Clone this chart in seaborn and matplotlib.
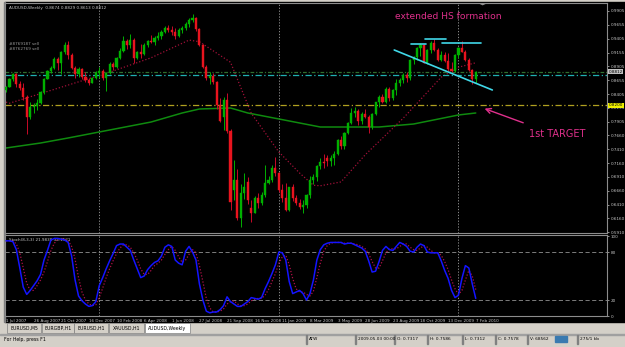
import numpy as np
import pandas as pd
import matplotlib
matplotlib.use("Agg")
import matplotlib.pyplot as plt
from matplotlib.patches import Rectangle, Polygon
import seaborn as sns

# AUDUSD weekly bars, week of 1 Jul 2007 .. week of 7 Feb 2010
opens = [.8480, .8540, .8670, .8760, .8580, .8510, .8360, .7990, .8170, .8190,
         .8240, .8440, .8680, .8820, .8870, .9040, .8960, .9160, .9290, .9110,
         .8880, .8760, .8850, .8720, .8660, .8610, .8700, .8780, .8830, .8700,
         .8780, .8940, .8900, .9050, .9190, .9360, .9290, .9380, .9060, .9160,
         .9130, .9300, .9370, .9350, .9420, .9460, .9530, .9600, .9570, .9520,
         .9450, .9570, .9600, .9670, .9740, .9770, .9580, .9300, .8900, .8700,
         .8740, .8620, .8200, .8000, .8290, .7740, .6670, .6850, .6170, .6620,
         .6820, .6350, .6260, .6530, .6440, .6590, .6800, .6860, .7070, .6980,
         .6670, .6530, .6310, .6720, .6530, .6440, .6370, .6410, .6580, .6860,
         .6910, .7100, .7180, .7250, .7200, .7250, .7317, .7578, .7460, .7700,
         .7890, .8070, .8100, .7920, .8040, .8000, .7810, .8040, .8260, .8360,
         .8260, .8500, .8330, .8480, .8600, .8660, .8750, .8700, .9020, .9070,
         .9240, .9290, .8970, .9200, .9330, .9200, .9020, .9110, .9010, .8850,
         .8820, .9110, .9240, .9170, .9020, .8840, .8674]
highs = [.8560, .8690, .8793, .8790, .8650, .8610, .8380, .8260, .8240, .8310,
         .8460, .8700, .8840, .8920, .9070, .9080, .9190, .9340, .9370, .9150,
         .8920, .8900, .8880, .8810, .8690, .8720, .8830, .8890, .8850, .8800,
         .8980, .8990, .9080, .9230, .9450, .9400, .9496, .9420, .9190, .9310,
         .9330, .9380, .9480, .9460, .9520, .9560, .9640, .9660, .9640, .9590,
         .9600, .9640, .9700, .9770, .9849, .9790, .9600, .9310, .8930, .8810,
         .8790, .8640, .8330, .8350, .8420, .7780, .7210, .7050, .6780, .6980,
         .6900, .6500, .6560, .6620, .6630, .7120, .6920, .7120, .7270, .7000,
         .6780, .6800, .6720, .6780, .6580, .6520, .6490, .6600, .6920, .6960,
         .7130, .7260, .7330, .7310, .7300, .7380, .7586, .7640, .7720, .7910,
         .8160, .8180, .8130, .8080, .8140, .8020, .8060, .8270, .8380, .8400,
         .8530, .8540, .8500, .8680, .8700, .8790, .8800, .9040, .9090, .9250,
         .9330, .9310, .9220, .9360, .9406, .9230, .9180, .9170, .9150, .8990,
         .9130, .9260, .9367, .9200, .9050, .8860, .8829]
lows = [.8450, .8530, .8650, .8540, .8470, .8300, .7677, .7960, .8070, .8110,
        .8220, .8400, .8670, .8780, .8850, .8840, .8770, .9120, .9040, .8850,
        .8690, .8720, .8680, .8630, .8570, .8600, .8680, .8700, .8660, .8460,
        .8760, .8840, .8880, .9030, .9170, .9220, .9240, .8970, .9030, .9050,
        .9110, .9250, .9320, .9300, .9390, .9400, .9500, .9520, .9480, .9400,
        .9440, .9510, .9560, .9620, .9700, .9540, .9270, .8870, .8660, .8580,
        .8580, .8127, .7900, .7760, .7700, .6310, .6490, .6130, .6009, .6520,
        .6420, .6100, .6250, .6350, .6400, .6550, .6780, .6810, .6930, .6640,
        .6460, .6290, .6290, .6470, .6400, .6330, .6250, .6350, .6530, .6780,
        .6830, .7060, .7080, .7100, .7100, .7120, .7312, .7420, .7420, .7680,
        .7860, .7990, .7850, .7870, .7980, .7700, .7780, .8020, .8180, .8240,
        .8250, .8280, .8290, .8390, .8550, .8600, .8620, .8660, .8950, .9020,
        .9100, .8960, .8950, .9150, .9180, .9000, .9000, .8990, .8830, .8800,
        .8800, .9060, .9160, .9000, .8820, .8579, .8613]
closes = [.8540, .8670, .8760, .8580, .8510, .8360, .7990, .8170, .8190, .8240,
          .8440, .8680, .8820, .8870, .9040, .8960, .9160, .9290, .9110, .8880,
          .8760, .8850, .8720, .8660, .8610, .8700, .8780, .8830, .8700, .8780,
          .8940, .8900, .9050, .9190, .9360, .9290, .9380, .9060, .9160, .9130,
          .9300, .9370, .9350, .9420, .9460, .9530, .9600, .9570, .9520, .9450,
          .9570, .9600, .9670, .9740, .9770, .9580, .9300, .8900, .8700, .8740,
          .8620, .8200, .7920, .8290, .7740, .6450, .6850, .6170, .6620, .6730,
          .6490, .6260, .6530, .6440, .6590, .6800, .6860, .7070, .6980, .6670,
          .6530, .6310, .6720, .6530, .6440, .6370, .6410, .6580, .6860, .6910,
          .7100, .7180, .7160, .7200, .7250, .7317, .7578, .7460, .7700, .7890,
          .8070, .8100, .7920, .8040, .8000, .7810, .8040, .8260, .8360, .8260,
          .8500, .8330, .8480, .8600, .8660, .8750, .8700, .9020, .9070, .9240,
          .9290, .8970, .9200, .9330, .9200, .9020, .9110, .9010, .8850, .8820,
          .9110, .9240, .9170, .9020, .8840, .8674, .8812]

# moving averages on the price window (bar index, price)
ma_red_idx = [0, 1, 30, 42, 53, 56, 65, 71, 79, 85, 89, 91, 97, 104, 115, 126, 131, 136]
ma_red_val = [.826, .824, .880, .906, .938, .935, .898, .806, .736, .698, .676, .675,
              .682, .731, .797, .871, .889, .897]
ma_green_idx = [0, 10, 18, 27, 42, 51, 56, 65, 70, 79, 91, 108, 118, 131, 136]
ma_green_val = [.7432, .7522, .7613, .7721, .7901, .8064, .8136, .8154, .8064,
                .7956, .7811, .7811, .7865, .8028, .8064]

# stochastic (8,3,3)
stoch_main = [94, 94, 93, 83, 60, 36, 27, 32, 38, 44, 52, 70, 82, 95, 97, 97, 96, 95, 92, 75,
              45, 25, 19, 15, 12, 13, 18, 38, 48, 59, 69, 78, 88, 90, 90, 86, 82, 70, 59, 48,
              50, 58, 63, 67, 69, 75, 86, 89, 87, 70, 66, 64, 81, 87, 80, 70, 40, 20, 6, 4,
              5, 5, 8, 13, 24, 18, 15, 12, 12, 15, 18, 23, 22, 21, 23, 34, 43, 53, 64, 80,
              79, 70, 43, 28, 30, 32, 28, 20, 28, 45, 70, 83, 89, 91, 92, 92, 92, 92, 90, 91,
              91, 89, 87, 85, 81, 69, 55, 56, 68, 82, 87, 83, 82, 87, 92, 90, 87, 81, 80, 86,
              90, 88, 80, 79, 79, 79, 69, 57, 47, 32, 23, 26, 47, 63, 60, 40, 22]
stoch_signal = [94, 94, 94, 90, 79, 60, 41, 32, 32, 38, 45, 55, 68, 82, 91, 96, 97, 96, 94, 87,
                71, 48, 30, 20, 15, 13, 14, 23, 35, 48, 59, 69, 78, 85, 89, 89, 86, 79, 70, 59,
                52, 52, 57, 63, 66, 70, 77, 83, 87, 82, 74, 67, 70, 77, 83, 79, 63, 43, 22, 10,
                5, 5, 6, 9, 15, 18, 19, 15, 13, 13, 15, 19, 21, 22, 22, 26, 33, 43, 53, 66,
                74, 76, 64, 47, 34, 30, 30, 27, 25, 31, 48, 66, 81, 88, 91, 92, 92, 92, 91, 91,
                91, 90, 89, 87, 84, 78, 68, 60, 60, 69, 79, 84, 84, 84, 87, 90, 90, 86, 83, 82,
                85, 88, 86, 82, 79, 79, 76, 68, 58, 45, 34, 27, 32, 45, 57, 50, 33]

date_labels = ["1 Jul 2007", "26 Aug 2007", "21 Oct 2007", "16 Dec 2007", "10 Feb 2008",
               "6 Apr 2008", "1 Jun 2008", "27 Jul 2008", "21 Sep 2008", "16 Nov 2008",
               "11 Jan 2009", "8 Mar 2009", "3 May 2009", "28 Jun 2009", "23 Aug 2009",
               "18 Oct 2009", "13 Dec 2009", "7 Feb 2010"]
price_ticks = [0.9905, 0.9655, 0.9405, 0.9155, 0.8905, 0.8655, 0.8405, 0.8155, 0.7905,
               0.7660, 0.7410, 0.7160, 0.6910, 0.6660, 0.6410, 0.6160, 0.5910]
year_bars = [27, 79, 131]

bid_price = 0.8812
order_price = 0.8745
target_price = 0.8200
neck_idx = [112.4, 140.8]
neck_val = [0.9201, 0.8479]
shoulder_lines = [(117.3, 121.7, 0.9315), (121.4, 127.5, 0.9405), (126.3, 137.6, 0.9322)]

tabs = ["EURUSD,M5", "EURGBP,H1", "EURUSD,H1", "XAUUSD,H1", "AUDUSD,Weekly"]
status = [("ATW", 309), ("2009.05.03 00:00", 358), ("O: 0.7317", 397), ("H: 0.7586", 430),
          ("L: 0.7312", 465), ("C: 0.7578", 498), ("V: 68562", 530), ("275/1 kb", 580)]

# ---------------------------------------------------------------------------
sns.set_theme(style="dark")
plt.rcParams['font.family'] = ['DejaVu Sans']

W, H = 625, 347
def box(x0, y0, x1, y1):
    return [x0 / W, 1 - y1 / H, (x1 - x0) / W, (y1 - y0) / H]

fig = plt.figure(figsize=(6.25, 3.47), dpi=100)
fig.patch.set_facecolor('#d4d0c8')
fig.add_artist(Rectangle((5 / W, 1 - 322 / H), 620 / W, 320 / H, color='black',
                         transform=fig.transFigure, zorder=0))
fig.add_artist(Rectangle((4 / W, 1 - 322 / H), 1 / W, 320 / H, color='#808080',
                         transform=fig.transFigure, zorder=0))

ax = fig.add_axes(box(5, 3, 607, 233))
ax2 = fig.add_axes(box(5, 235, 607, 316), sharex=ax)

GRID = '#8c8c8c'
SMALL = 3.0
for a in (ax, ax2):
    a.set_facecolor('black')
    a.grid(False)
    for s in a.spines.values():
        s.set_color(GRID)
        s.set_linewidth(0.8)
    a.yaxis.tick_right()
    a.tick_params(axis='y', colors='#c8c8c8', labelsize=SMALL, length=1.5, width=0.5, pad=1)
    for b in year_bars:
        a.axvline(b, color='#a0a0a0', lw=0.6, ls=(0, (1.5, 2)), zorder=1)

n = len(closes)
idx = np.arange(n)
df = pd.DataFrame({"i": idx, "o": opens, "h": highs, "l": lows, "c": closes})
up = df["c"] >= df["o"]
col = np.where(up, '#00b000', '#e8141e')
wick = np.where(up, '#00b000', '#c80a28')

ax.vlines(df["i"], df["l"], df["h"], colors=wick, lw=0.7, zorder=3)
body_h = (df["c"] - df["o"]).abs().clip(lower=0.0012)
ax.bar(df["i"], body_h, bottom=df[["o", "c"]].min(axis=1), width=0.62,
       color=col, edgecolor=col, lw=0.3, zorder=4)

# moving averages
sns.lineplot(x=ma_green_idx, y=ma_green_val, ax=ax, color='#0f8a0f', lw=1.1, zorder=2)
sns.lineplot(x=ma_red_idx, y=ma_red_val, ax=ax, color='#a01038', lw=0.9,
             linestyle=(0, (1, 1.6)), zorder=2)

# horizontal lines
ax.axhline(bid_price, color='#2f6f2f', lw=0.9, ls=(0, (3, 1.5, 1, 1.5)), zorder=2)
ax.axhline(order_price, color='#20b0b0', lw=0.9, ls=(0, (5, 2, 1, 2)), zorder=2)
ax.axhline(target_price, color='#b0a020', lw=0.9, ls=(0, (5, 2, 1, 2)), zorder=2)

# head & shoulders marks
CYAN = '#40d8e8'
ax.plot(neck_idx, neck_val, color=CYAN, lw=1.2, zorder=5)
for x0, x1, v in shoulder_lines:
    ax.plot([x0, x1], [v, v], color=CYAN, lw=1.2, zorder=5)

PINK = '#e0308c'
ax.text(112.5, 0.9800, "extended HS formation", color=PINK, fontsize=6.6, va='center')
ax.text(151.5, 0.7680, "1st TARGET", color=PINK, fontsize=7, va='center')
ax.annotate("", xy=(137.8, 0.8160), xytext=(150.5, 0.7870),
            arrowprops=dict(arrowstyle='->', color=PINK, lw=1.0, mutation_scale=9))

ax.set_xlim(-0.29, 174.0)
ax.set_ylim(0.5898, 1.0049)
ax.set_yticks(price_ticks)
ax.set_yticklabels([f"{p:.4f}" for p in price_ticks])
ax.tick_params(axis='x', bottom=False, labelbottom=False)

# price boxes
for p, fc in [(bid_price, '#c0c0c0'), (target_price, '#f0f000')]:
    ax.annotate(f"{p:.4f}", xy=(1.0, p), xycoords=('axes fraction', 'data'),
                xytext=(1.2, 0), textcoords='offset points', fontsize=SMALL, va='center',
                ha='left', color='black',
                bbox=dict(boxstyle='square,pad=0.12', fc=fc, ec='none'))

ax.text(0.006, 0.985, "AUDUSD,Weekly  0.8674 0.8829 0.8613 0.8812", transform=ax.transAxes,
        color='#c8c8c8', fontsize=SMALL, va='top')
ax.text(0.006, 0.822, "#8769187 sell", transform=ax.transAxes, color='#9a9a9a',
        fontsize=SMALL, va='center')
ax.text(0.006, 0.800, "#8762769 sell", transform=ax.transAxes, color='#9a9a9a',
        fontsize=SMALL, va='center')
ax.add_patch(Polygon([[137.0, 1.0049], [139.0, 1.0049], [138.0, 1.0020]], closed=True,
                     color='#909090', zorder=6))

# stochastic panel
sns.lineplot(x=idx, y=stoch_main, ax=ax2, color='#1414ff', lw=1.1, zorder=4)
sns.lineplot(x=idx, y=stoch_signal, ax=ax2, color='#b01048', lw=0.9,
             linestyle=(0, (1, 1.5)), zorder=3)
for lvl in (20, 80):
    ax2.axhline(lvl, color='#909090', lw=0.6, ls=(0, (5, 3)), zorder=1)
ax2.set_ylim(0, 101.3)
ax2.set_yticks([100, 80, 20, 0])
ax2.set_yticklabels(["100", "80", "20", "0"])
ax2.set_xticks(np.arange(0, n, 8))
ax2.set_xticklabels(date_labels, ha='left')
ax2.tick_params(axis='x', colors='#c8c8c8', labelsize=SMALL, length=1.5, width=0.5, pad=0.5)
ax2.text(0.006, 0.96, "Stoch(8,3,3) 21.9838 33.1521", transform=ax2.transAxes,
         color='#c8c8c8', fontsize=SMALL, va='top')
for a in (ax, ax2):
    a.set_xlabel("")
    a.set_ylabel("")

# tab strip and status bar
tab_x = [(7, 41), (42, 74), (74, 108), (109, 144), (145, 190)]
for (x0, x1), name in zip(tab_x, tabs):
    active = name == "AUDUSD,Weekly"
    fig.add_artist(Rectangle((x0 / W, 1 - 333 / H), (x1 - x0) / W, 10 / H,
                             facecolor='white' if active else '#d4d0c8',
                             edgecolor='#808080', lw=0.5, transform=fig.transFigure))
    fig.text((x0 + x1) / 2 / W, 1 - 328.5 / H, name, fontsize=3.3, ha='center',
             va='center', color='black')
fig.add_artist(Rectangle((0, 1 - 335 / H), 1, 0.6 / H, color='#a0a0a0',
                         transform=fig.transFigure))
fig.text(4 / W, 1 - 339 / H, "For Help, press F1", fontsize=3.3, va='center', color='black')
for txt, x in status:
    fig.text(x / W, 1 - 339 / H, txt, fontsize=3.1, va='center', color='black')
    fig.add_artist(Rectangle(((x - 3) / W, 1 - 344 / H), 0.6 / W, 9 / H, color='#808080',
                             transform=fig.transFigure))
fig.add_artist(Rectangle((555 / W, 1 - 342 / H), 12 / W, 6 / H, color='#3a7ab0',
                         transform=fig.transFigure))

fig.savefig("out.png", dpi=100, facecolor=fig.get_facecolor())
